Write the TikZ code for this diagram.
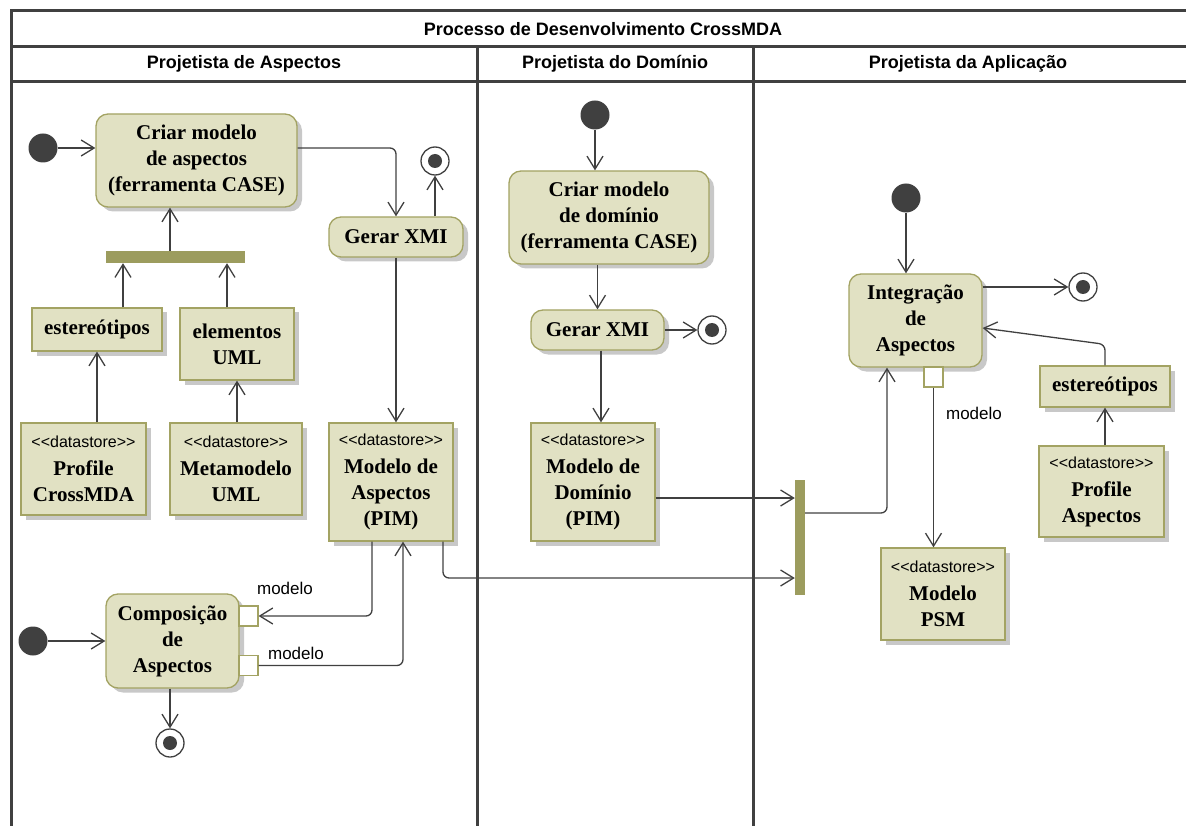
\documentclass[tikz,border=0pt]{standalone}
\usepackage{fontspec}
\setmainfont{Liberation Serif}
\setsansfont{Liberation Sans}
\usetikzlibrary{arrows.meta,shadows}

\definecolor{actfill}{HTML}{E1E1C3}
\definecolor{actline}{HTML}{A3A363}
\definecolor{barcol}{HTML}{9C9C5E}
\definecolor{ink}{HTML}{404040}
\definecolor{shade}{HTML}{C8C8C8}

\newcommand{\actfont}{\bfseries\fontsize{21}{26}\selectfont}
\newcommand{\stereo}{{\sffamily\mdseries\fontsize{16}{18}\selectfont\mbox{<}\mbox{<}datastore\mbox{>}\mbox{>}}}

\begin{document}
\begin{tikzpicture}[x=1pt,y=-1pt,
  lane/.style={draw=ink,line width=3pt},
  title/.style={font=\sffamily\bfseries\fontsize{18}{20}\selectfont,inner sep=0pt},
  lbl/.style={font=\sffamily\fontsize{17}{20}\selectfont,inner sep=0pt},
  shad/.style={drop shadow={shadow xshift=5pt,shadow yshift=-4.5pt,fill=shade,opacity=1}},
  act/.style={rectangle,rounded corners=12pt,draw=actline,line width=1.3pt,fill=actfill,
              shad,align=center,inner sep=0pt,font=\actfont},
  obj/.style={rectangle,draw=actline,line width=1.3pt,fill=actfill,
              shad,align=center,inner sep=0pt,font=\actfont},
  startdot/.style={circle,fill=ink,minimum size=29pt,inner sep=0pt},
  enddot/.style={circle,draw=ink,line width=1.3pt,fill=white,minimum size=28pt,inner sep=0pt,
                 path picture={\fill[ink] (path picture bounding box.center) circle (7pt);}},
  pinbox/.style={rectangle,draw=actline,fill=white,line width=1.2pt,
                 minimum width=19pt,minimum height=20pt,inner sep=0pt},
  forkbar/.style={rectangle,fill=barcol,inner sep=0pt},
  flow/.style={draw=ink,line width=1.3pt,-{Straight Barb[length=13pt,width=16pt]}}
]
\useasboundingbox (0,0) rectangle (1186,826);

% swimlane frame
\draw[lane] (1186,11) -- (11,11) -- (11,826);
\draw[lane] (11,47) -- (1186,47);
\draw[lane] (11,82) -- (1186,82);
\draw[lane] (477,47) -- (477,826);
\draw[lane] (753,47) -- (753,826);
\node[title] (ttl) at (603,29) {Processo de Desenvolvimento CrossMDA};
\node[title] (laneA) at (244,64) {Projetista de Aspectos};
\node[title] (laneD) at (615,64) {Projetista do Domínio};
\node[title] (laneP) at (968,64) {Projetista da Aplicação};

% --- Projetista de Aspectos ---
\node[startdot] (init1) at (43,148) {};
\node[act,minimum width=201pt,minimum height=93pt] (criarA) at (196.5,160.5)
  {Criar modelo\\de aspectos\\(ferramenta CASE)};
\node[forkbar,minimum width=139pt,minimum height=12pt] (bar1) at (175.5,257) {};
\node[obj,minimum width=130pt,minimum height=43pt] (esterA) at (97,329.5) {estereótipos};
\node[obj,minimum width=114pt,minimum height=72pt] (elemUML) at (237,344) {elementos\\UML};
\node[obj,minimum width=125pt,minimum height=92pt] (profCross) at (83.5,469)
  {\stereo\\[2pt]Profile\\CrossMDA};
\node[obj,minimum width=132pt,minimum height=92pt] (metaUML) at (236,469)
  {\stereo\\[2pt]Metamodelo\\UML};
\node[act,minimum width=134pt,minimum height=40pt] (gerarA) at (396,237) {Gerar XMI};
\node[enddot] (finalA) at (435,161) {};
\node[obj,minimum width=124pt,minimum height=118pt] (modAsp) at (391,482)
  {\stereo\\[2pt]Modelo de\\Aspectos\\(PIM)};
\node[startdot] (init3) at (33,641) {};
\node[act,minimum width=133pt,minimum height=94pt] (comp) at (172.5,641)
  {Composição\\de\\Aspectos};
\node[pinbox] (pin1) at (248.5,616) {};
\node[pinbox] (pin2) at (248.5,665.5) {};
\node[enddot] (finalC) at (170,743) {};
\node[lbl] (lm1) at (285,588) {modelo};
\node[lbl] (lm2) at (296,653) {modelo};

% --- Projetista do Dominio ---
\node[startdot] (initD) at (595,115) {};
\node[act,minimum width=200pt,minimum height=93pt] (criarD) at (609,217.5)
  {Criar modelo\\de domínio\\(ferramenta CASE)};
\node[act,minimum width=133pt,minimum height=40pt] (gerarD) at (597.5,330) {Gerar XMI};
\node[enddot] (finalD) at (712,330) {};
\node[obj,minimum width=124pt,minimum height=118pt] (modDom) at (593,482)
  {\stereo\\[2pt]Modelo de\\Domínio\\(PIM)};

% --- Projetista da Aplicacao ---
\node[forkbar,minimum width=10pt,minimum height=115pt] (join) at (800,537.5) {};
\node[startdot] (initI) at (906,198) {};
\node[act,minimum width=133pt,minimum height=93pt] (integ) at (915.5,320.5)
  {Integração\\de\\Aspectos};
\node[pinbox] (pinI) at (933.5,377) {};
\node[enddot] (finalI) at (1083,287) {};
\node[lbl] (lm3) at (974,413) {modelo};
\node[obj,minimum width=124pt,minimum height=92pt] (psm) at (943,594)
  {\stereo\\[2pt]Modelo\\PSM};
\node[obj,minimum width=130pt,minimum height=41pt] (esterI) at (1105,386.5) {estereótipos};
\node[obj,minimum width=125pt,minimum height=91pt] (profAsp) at (1101.5,491.5)
  {\stereo\\[2pt]Profile\\Aspectos};

% flows: aspects lane
\draw[flow] (init1.east) -- (init1.east -| criarA.west);
\draw[flow,rounded corners=6pt] (criarA.east |- init1) -| (gerarA.north);
\draw[flow] (gerarA.north -| finalA) -- (finalA.south);
\draw[flow] (gerarA.south) -- (gerarA.south |- modAsp.north);
\draw[flow] ([xshift=-5.5pt]bar1.north) -- ([xshift=-5.5pt]bar1.north |- criarA.south);
\draw[flow] ([xshift=26pt]esterA.north) -- ([xshift=26pt]esterA.north |- bar1.south);
\draw[flow] ([xshift=-10pt]elemUML.north) -- ([xshift=-10pt]elemUML.north |- bar1.south);
\draw[flow] (profCross.north -| esterA.south) -- (esterA.south);
\draw[flow] (metaUML.north -| elemUML.south) -- (elemUML.south);
\draw[flow,rounded corners=6pt] ([xshift=-19pt]modAsp.south) |- (pin1.east);
\draw[flow,rounded corners=6pt] (pin2.east) -| ([xshift=12pt]modAsp.south);
\draw[flow,rounded corners=6pt] ([xshift=52pt]modAsp.south) |- ([yshift=-40.5pt]join.west);
\draw[flow] (init3.east) -- (comp.west);
\draw[flow] (comp.south -| finalC) -- (finalC.north);

% flows: domain lane
\draw[flow] (initD.south) -- (initD.south |- criarD.north);
\draw[flow] (criarD.south -| gerarD.north) -- (gerarD.north);
\draw[flow] (gerarD.east) -- (finalD.west);
\draw[flow] ([xshift=3.5pt]gerarD.south) -- ([xshift=3.5pt]gerarD.south |- modDom.north);
\draw[flow] ([yshift=-16pt]modDom.east) -- ([yshift=-16pt]modDom.east -| join.west);

% flows: application lane
\draw[flow,rounded corners=6pt] ([yshift=24.5pt]join.east) -| ([xshift=-28.5pt]integ.south);
\draw[flow] (initI.south) -- (initI.south |- integ.north);
\draw[flow] (integ.east |- finalI) -- (finalI.west);
\draw[flow] (pinI.south) -- (pinI.south |- psm.north);
\draw[flow,rounded corners=6pt] (esterI.north) -- ++(0,21pt) -- ([yshift=-7.5pt]integ.east);
\draw[flow] (profAsp.north -| esterI.south) -- (esterI.south);
\end{tikzpicture}
\end{document}
